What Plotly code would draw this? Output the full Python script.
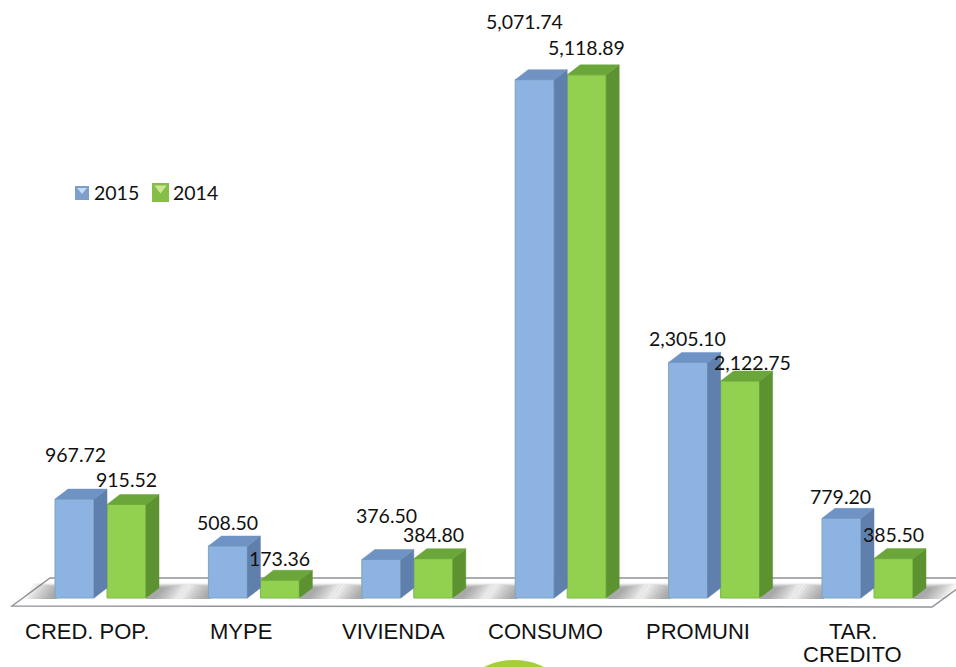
import plotly.graph_objects as go

# ---------- data ----------
categories = ["CRED. POP.", "MYPE", "VIVIENDA", "CONSUMO", "PROMUNI", "TAR.<br>CREDITO"]
values_2015 = [967.72, 508.50, 376.50, 5071.74, 2305.10, 779.20]
values_2014 = [915.52, 173.36, 384.80, 5118.89, 2122.75, 385.50]

# ---------- layout constants ----------
W, H = 956, 667
BASE_PX, UNIT_PX = 598, 0.1022       # baseline row, pixels per value unit
STEP_PX, FIRST_PX = 153.4, 100.5     # category spacing, first category centre
BAR_W, BAR_SHIFT = 39, 26            # bar width, centre shift from category centre
DEPTH_X, DEPTH_Y = 13, 10            # faux-3D depth

# per-label offsets from the top-centre of each bar front, in pixels (dx, dy up)
LABEL_OFF_2015 = [(1, 45), (0, 24), (5, 44), (-10, 58), (-1, 24), (-1, 22)]
LABEL_OFF_2014 = [(0, 25), (0, 22), (0, 24), (0, 27), (12, 19), (0, 24)]
CAT_LABEL_SHIFT = [-14, -13, -14, -15, -16, -15]
CAT_LINE_PX = [33, 56]

COL = {
    "2015": dict(front="#8DB3E2", side="#5F7FAD", top="#6F93C4", edge="#7FA6B8"),
    "2014": dict(front="#92D050", side="#5C9330", top="#6BA63A", edge="#7DB84A"),
}
LABEL_FONT = dict(family="Lato", size=19.5, color="#111111")
CAT_FONT = dict(family="Liberation Sans", size=22, color="#111111")


def x_data(px):
    return (px - FIRST_PX) / STEP_PX


def y_data(px):
    return (BASE_PX - px) / UNIT_PX


dx = DEPTH_X / STEP_PX
dy = DEPTH_Y / UNIT_PX
half = BAR_W / 2 / STEP_PX
shift = BAR_SHIFT / STEP_PX

fig = go.Figure()


def add_series(name, vals, sign):
    c = COL[name]
    xs = [i + sign * shift for i in range(len(vals))]
    fig.add_trace(go.Bar(
        x=xs, y=vals, width=BAR_W / STEP_PX, name=name, showlegend=False,
        marker=dict(color=c["front"], line=dict(color=c["edge"], width=1)),
        hoverinfo="y",
    ))
    # side and top faces are derived from the same values
    for x, v in zip(xs, vals):
        r = x + half
        l = x - half
        fig.add_trace(go.Scatter(
            x=[r, r + dx, r + dx, r, r], y=[0, dy, v + dy, v, 0],
            mode="lines", fill="toself", fillcolor=c["side"],
            line=dict(color=c["side"], width=0.5), showlegend=False, hoverinfo="skip",
        ))
        fig.add_trace(go.Scatter(
            x=[l, r, r + dx, l + dx, l], y=[v, v, v + dy, v + dy, v],
            mode="lines", fill="toself", fillcolor=c["top"],
            line=dict(color=c["top"], width=0.5), showlegend=False, hoverinfo="skip",
        ))


add_series("2015", values_2015, -1)
add_series("2014", values_2014, 1)

# ---------- floor and decorations ----------
def poly(points, **kw):
    path = "M " + " L ".join(f"{x_data(a)},{y_data(b)}" for a, b in points) + " Z"
    return dict(type="path", path=path, xref="x", yref="y", layer="below", **kw)


shapes = [
    poly([(12, 606), (50, 578), (972, 578), (932, 607)],
         fillcolor="white", line=dict(color="#8F9499", width=1.5)),
]
# soft shadows on the floor beside each pair of bars
for i in range(len(categories)):
    centre = FIRST_PX + STEP_PX * i
    left = centre - BAR_SHIFT - BAR_W / 2
    right = centre + BAR_SHIFT + BAR_W / 2 + DEPTH_X
    for k in range(1, 9):
        w = 3.5 * k
        shapes.append(poly([(left - w - 3, BASE_PX + 1), (left - w + 7, 588 - k * 0.6), (left + 2, 588 - k * 0.6), (left + 2, BASE_PX + 1)],
                           fillcolor="#404040", opacity=0.065, line=dict(width=0)))
        shapes.append(poly([(right - 13, BASE_PX + 1), (right - 2, 588 - k * 0.6), (right + w + 3, 588 - k * 0.6), (right + w - 7, BASE_PX + 1)],
                           fillcolor="#404040", opacity=0.065, line=dict(width=0)))

# bottom circle, cut off by the page edge
shapes.append(dict(type="circle", xref="paper", yref="paper", layer="below",
                   x0=(514 - 68) / W, x1=(514 + 68) / W,
                   y0=1 - (660 + 136) / H, y1=1 - 660 / H,
                   fillcolor="#A6CE39", line=dict(width=0)))


def swatch(x0, y0, x1, y1, outer, inner):
    m = max(2, (x1 - x0) * 0.14)
    return [
        dict(type="rect", xref="paper", yref="paper", x0=x0 / W, x1=x1 / W,
             y0=1 - y1 / H, y1=1 - y0 / H, fillcolor=outer, line=dict(width=0)),
        dict(type="path", xref="paper", yref="paper",
             path=f"M {(x0 + m) / W},{1 - (y0 + m) / H} L {(x1 - m) / W},{1 - (y0 + m) / H} "
                  f"L {(x0 + x1) / 2 / W},{1 - ((y0 + y1) / 2 + 1) / H} Z",
             fillcolor=inner, line=dict(width=0)),
    ]


shapes += swatch(75, 186, 89, 200, "#7F9FCB", "#C4DCF3")
shapes += swatch(152, 183, 169, 202, "#86BE4A", "#CBE891")

# ---------- texts ----------
ann = []
for i, cat in enumerate(categories):
    for line, drop in zip(cat.split("<br>"), CAT_LINE_PX):
        ann.append(dict(x=i, y=0, xref="x", yref="y", text=line, showarrow=False, font=CAT_FONT,
                        xshift=CAT_LABEL_SHIFT[i], yshift=-drop, yanchor="middle", xanchor="center",
                        align="center"))
for sign, vals, offs in ((-1, values_2015, LABEL_OFF_2015), (1, values_2014, LABEL_OFF_2014)):
    for i, (v, (ox, oy)) in enumerate(zip(vals, offs)):
        ann.append(dict(x=i + sign * shift, y=v, xref="x", yref="y", text=f"{v:,.2f}",
                        showarrow=False, font=LABEL_FONT, xshift=ox, yshift=oy,
                        xanchor="center", yanchor="middle"))
for txt, xp in (("2015", 94), ("2014", 173)):
    ann.append(dict(x=xp / W, y=1 - 193 / H, xref="paper", yref="paper", text=txt,
                    showarrow=False, font=LABEL_FONT, xanchor="left", yanchor="middle",
                    borderpad=0, borderwidth=0))

fig.update_layout(
    width=W, height=H, margin=dict(l=0, r=0, t=0, b=0, pad=0),
    paper_bgcolor="white", plot_bgcolor="white", barmode="overlay",
    xaxis=dict(range=[x_data(0), x_data(W)], visible=False, fixedrange=True),
    yaxis=dict(range=[y_data(H), y_data(0)], visible=False, fixedrange=True),
    shapes=shapes, annotations=ann, showlegend=False,
)
fig.write_html("out.html", config={"displayModeBar": False},
               post_script="document.body.style.margin='0';document.body.style.overflow='hidden';")
